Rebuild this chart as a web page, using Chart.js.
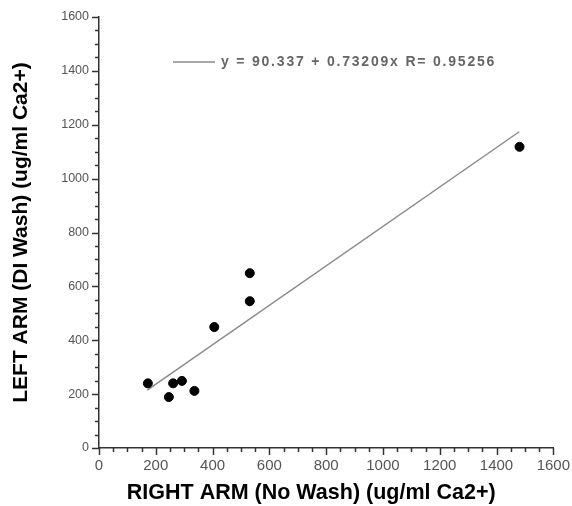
<!DOCTYPE html>
<html>
<head>
<meta charset="utf-8">
<script src="https://cdn.jsdelivr.net/npm/chart.js@4.4.0/dist/chart.umd.min.js"></script>
<style>
    html, body { margin: 0; padding: 0; background: #fff; }
    #wrap { width: 572px; height: 506px; }
</style>
</head>
<body>
<div id="wrap"><canvas id="chart"></canvas></div>
<script>
// --- Data ---
const rightArm = [172, 246, 261, 292, 336, 406, 531, 531, 1481];
const leftArm = [240, 189, 240, 249, 212, 449, 545, 649, 1118];

// fitted line end points
const fitX = [170, 1480];
const fitY = [215, 1174];
const fitLabel = 'y = 90.337 + 0.73209x R= 0.95256';

const xTickValues = [0, 200, 400, 600, 800, 1000, 1200, 1400, 1600];
const yTickValues = [0, 200, 400, 600, 800, 1000, 1200, 1400, 1600];

const axisColor = '#333';
const fitColor = '#8a8a8a';
const fontFamily = '"Liberation Sans", Arial, sans-serif';

// Outside ticks: long at labels, short in between
const tickMarks = {
    id: 'tickMarks',
    afterDraw(chart) {
        const { ctx } = chart;
        const xs = chart.scales.x;
        const ys = chart.scales.y;
        ctx.save();
        ctx.strokeStyle = axisColor;
        ctx.lineWidth = 1.5;
        for (let v = xs.min; v <= xs.max; v += 50) {
            const px = Math.round(xs.getPixelForValue(v)) + 0.5;
            const len = xTickValues.includes(v) ? 7 : 4;
            ctx.beginPath();
            ctx.moveTo(px, xs.top);
            ctx.lineTo(px, xs.top + len);
            ctx.stroke();
        }
        for (let v = ys.min; v <= ys.max; v += 50) {
            const py = Math.round(ys.getPixelForValue(v)) + 0.5;
            const len = yTickValues.includes(v) ? 7 : 4;
            ctx.beginPath();
            ctx.moveTo(ys.right, py);
            ctx.lineTo(ys.right - len, py);
            ctx.stroke();
        }
        ctx.restore();
    }
};

// Legend with the fit equation, inside the plot
const fitLegend = {
    id: 'fitLegend',
    afterDraw(chart) {
        const { ctx, chartArea } = chart;
        const x0 = chartArea.left + 74;
        const y0 = chartArea.top + 45;
        ctx.save();
        ctx.strokeStyle = fitColor;
        ctx.lineWidth = 1.5;
        ctx.beginPath();
        ctx.moveTo(x0, y0);
        ctx.lineTo(x0 + 42, y0);
        ctx.stroke();
        ctx.fillStyle = '#666';
        ctx.font = 'bold 14px ' + fontFamily;
        ctx.letterSpacing = '1.8px';
        ctx.textBaseline = 'middle';
        ctx.fillText(fitLabel, x0 + 48, y0);
        ctx.restore();
    }
};

new Chart(document.getElementById('chart'), {
    type: 'scatter',
    data: {
        datasets: [
            {
                label: 'data',
                data: rightArm.map((v, i) => ({ x: v, y: leftArm[i] })),
                backgroundColor: '#000',
                borderColor: '#000',
                pointRadius: 4.5,
                pointHoverRadius: 4.5
            },
            {
                label: fitLabel,
                type: 'line',
                data: fitX.map((v, i) => ({ x: v, y: fitY[i] })),
                borderColor: fitColor,
                borderWidth: 1.5,
                pointRadius: 0,
                fill: false
            }
        ]
    },
    options: {
        responsive: true,
        maintainAspectRatio: false,
        animation: false,
        layout: { padding: { top: 17, right: 17, left: 0, bottom: 0 } },
        plugins: {
            legend: { display: false },
            tooltip: { enabled: false }
        },
        scales: {
            x: {
                type: 'linear',
                min: 0,
                max: 1600,
                afterBuildTicks: (s) => { s.ticks = xTickValues.map(v => ({ value: v })); },
                afterFit: (s) => { s.height = 58; },
                grid: { display: false, drawTicks: true, tickLength: 7 },
                border: { display: true, color: axisColor, width: 1.5 },
                ticks: {
                    color: '#555',
                    padding: 2,
                    maxRotation: 0,
                    callback: (v) => String(v),
                    font: { family: fontFamily, size: 15 }
                },
                title: {
                    display: true,
                    // trailing spaces nudge the centred title left, as in the original
                    text: 'RIGHT ARM (No Wash) (ug/ml Ca2+)     ',
                    color: '#000',
                    padding: { top: 0, bottom: 0 },
                    font: { family: fontFamily, size: 21.5, weight: 'bold' }
                }
            },
            y: {
                type: 'linear',
                min: 0,
                max: 1600,
                afterBuildTicks: (s) => { s.ticks = yTickValues.map(v => ({ value: v })); },
                afterFit: (s) => { s.width = 99; },
                grid: { display: false, drawTicks: true, tickLength: 7 },
                border: { display: true, color: axisColor, width: 1.5 },
                ticks: {
                    color: '#555',
                    padding: 3,
                    callback: (v) => String(v),
                    font: { family: fontFamily, size: 12.5 }
                },
                title: {
                    display: true,
                    text: 'LEFT ARM (DI Wash) (ug/ml Ca2+)',
                    color: '#000',
                    padding: { top: 9, bottom: 0 },
                    font: { family: fontFamily, size: 21, weight: 'bold' }
                }
            }
        }
    },
    plugins: [tickMarks, fitLegend]
});
</script>
</body>
</html>
